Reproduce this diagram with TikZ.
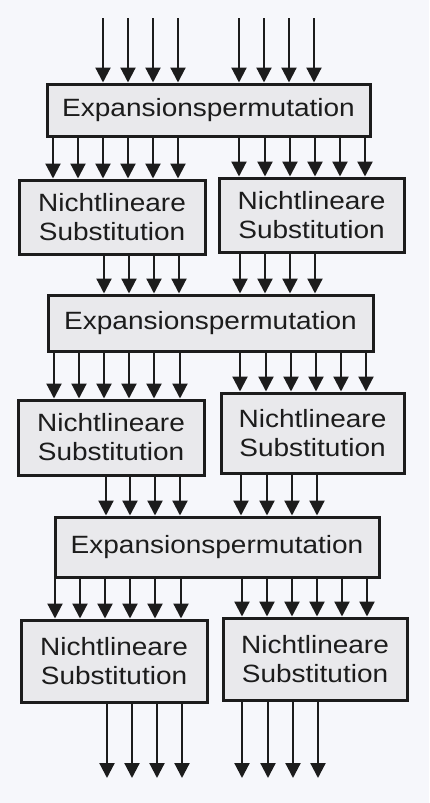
\documentclass[tikz,border=0pt]{standalone}
\usepackage{fontspec}
\newfontfamily\diagfont[FakeStretch=1.12]{Liberation Sans}
\usetikzlibrary{arrows.meta}
\definecolor{paper}{HTML}{F6F7FB}
\definecolor{boxfill}{HTML}{E9E9EC}
\definecolor{ink}{HTML}{1C1C1C}
\begin{document}
\begin{tikzpicture}[x=1pt,y=-1pt,
  blockbox/.style={draw=ink,line width=3pt,fill=boxfill,inner sep=0pt,
    align=center,text=ink,font=\diagfont\fontsize{25}{29}\selectfont},
  sig/.style={draw=ink,line width=2.2pt,-{Triangle[length=15pt,width=15pt]}}]
\fill[paper] (0,0) rectangle (429,803);
\useasboundingbox (0,0) rectangle (429,803);

% expansion permutations
\node[blockbox,minimum width=323pt,minimum height=52pt] (E1) at (208.5,110) {Expansionspermutation};
\node[blockbox,minimum width=325pt,minimum height=56pt] (E2) at (210.5,323) {Expansionspermutation};
\node[blockbox,minimum width=324pt,minimum height=60pt] (E3) at (217,547) {Expansionspermutation};

% non-linear substitutions (S-boxes)
\node[blockbox,minimum width=186pt,minimum height=74pt] (S1L) at (112,217) {Nichtlineare\\Substitution};
\node[blockbox,minimum width=185pt,minimum height=74pt] (S1R) at (311.5,215) {Nichtlineare\\Substitution};
\node[blockbox,minimum width=186pt,minimum height=75pt] (S2L) at (111,437.5) {Nichtlineare\\Substitution};
\node[blockbox,minimum width=183pt,minimum height=80pt] (S2R) at (312.5,433) {Nichtlineare\\Substitution};
\node[blockbox,minimum width=186pt,minimum height=82pt] (S3L) at (114,661) {Nichtlineare\\Substitution};
\node[blockbox,minimum width=184pt,minimum height=82pt] (S3R) at (315,659) {Nichtlineare\\Substitution};

% input bits
\coordinate (in) at (0,18);
\foreach \x in {103,128,153,178,239,264,289,314}
  \draw[sig] (in -| \x,0) -- (E1.north -| \x,0);

% first round
\foreach \x in {53,78,103,128,153,178}
  \draw[sig] (E1.south -| \x,0) -- (S1L.north -| \x,0);
\foreach \x in {239,265,290,315,340,365}
  \draw[sig] (E1.south -| \x,0) -- (S1R.north -| \x,0);
\foreach \x in {104,129,154,179}
  \draw[sig] (S1L.south -| \x,0) -- (E2.north -| \x,0);
\foreach \x in {240,265,290,315}
  \draw[sig] (S1R.south -| \x,0) -- (E2.north -| \x,0);

% second round
\foreach \x in {54,79,104,129,154,180}
  \draw[sig] (E2.south -| \x,0) -- (S2L.north -| \x,0);
\foreach \x in {240,266,291,316,341,366}
  \draw[sig] (E2.south -| \x,0) -- (S2R.north -| \x,0);
\foreach \x in {106,130,155,180}
  \draw[sig] (S2L.south -| \x,0) -- (E3.north -| \x,0);
\foreach \x in {241,267,292,317}
  \draw[sig] (S2R.south -| \x,0) -- (E3.north -| \x,0);

% third round
\foreach \x in {55,80,105,130,155,181}
  \draw[sig] (E3.south -| \x,0) -- (S3L.north -| \x,0);
\foreach \x in {242,267,292,317,342,367}
  \draw[sig] (E3.south -| \x,0) -- (S3R.north -| \x,0);

% output bits
\coordinate (out) at (0,778);
\foreach \x in {107,132,157,182}
  \draw[sig] (S3L.south -| \x,0) -- (out -| \x,0);
\foreach \x in {242,268,293,318}
  \draw[sig] (S3R.south -| \x,0) -- (out -| \x,0);
\end{tikzpicture}
\end{document}
